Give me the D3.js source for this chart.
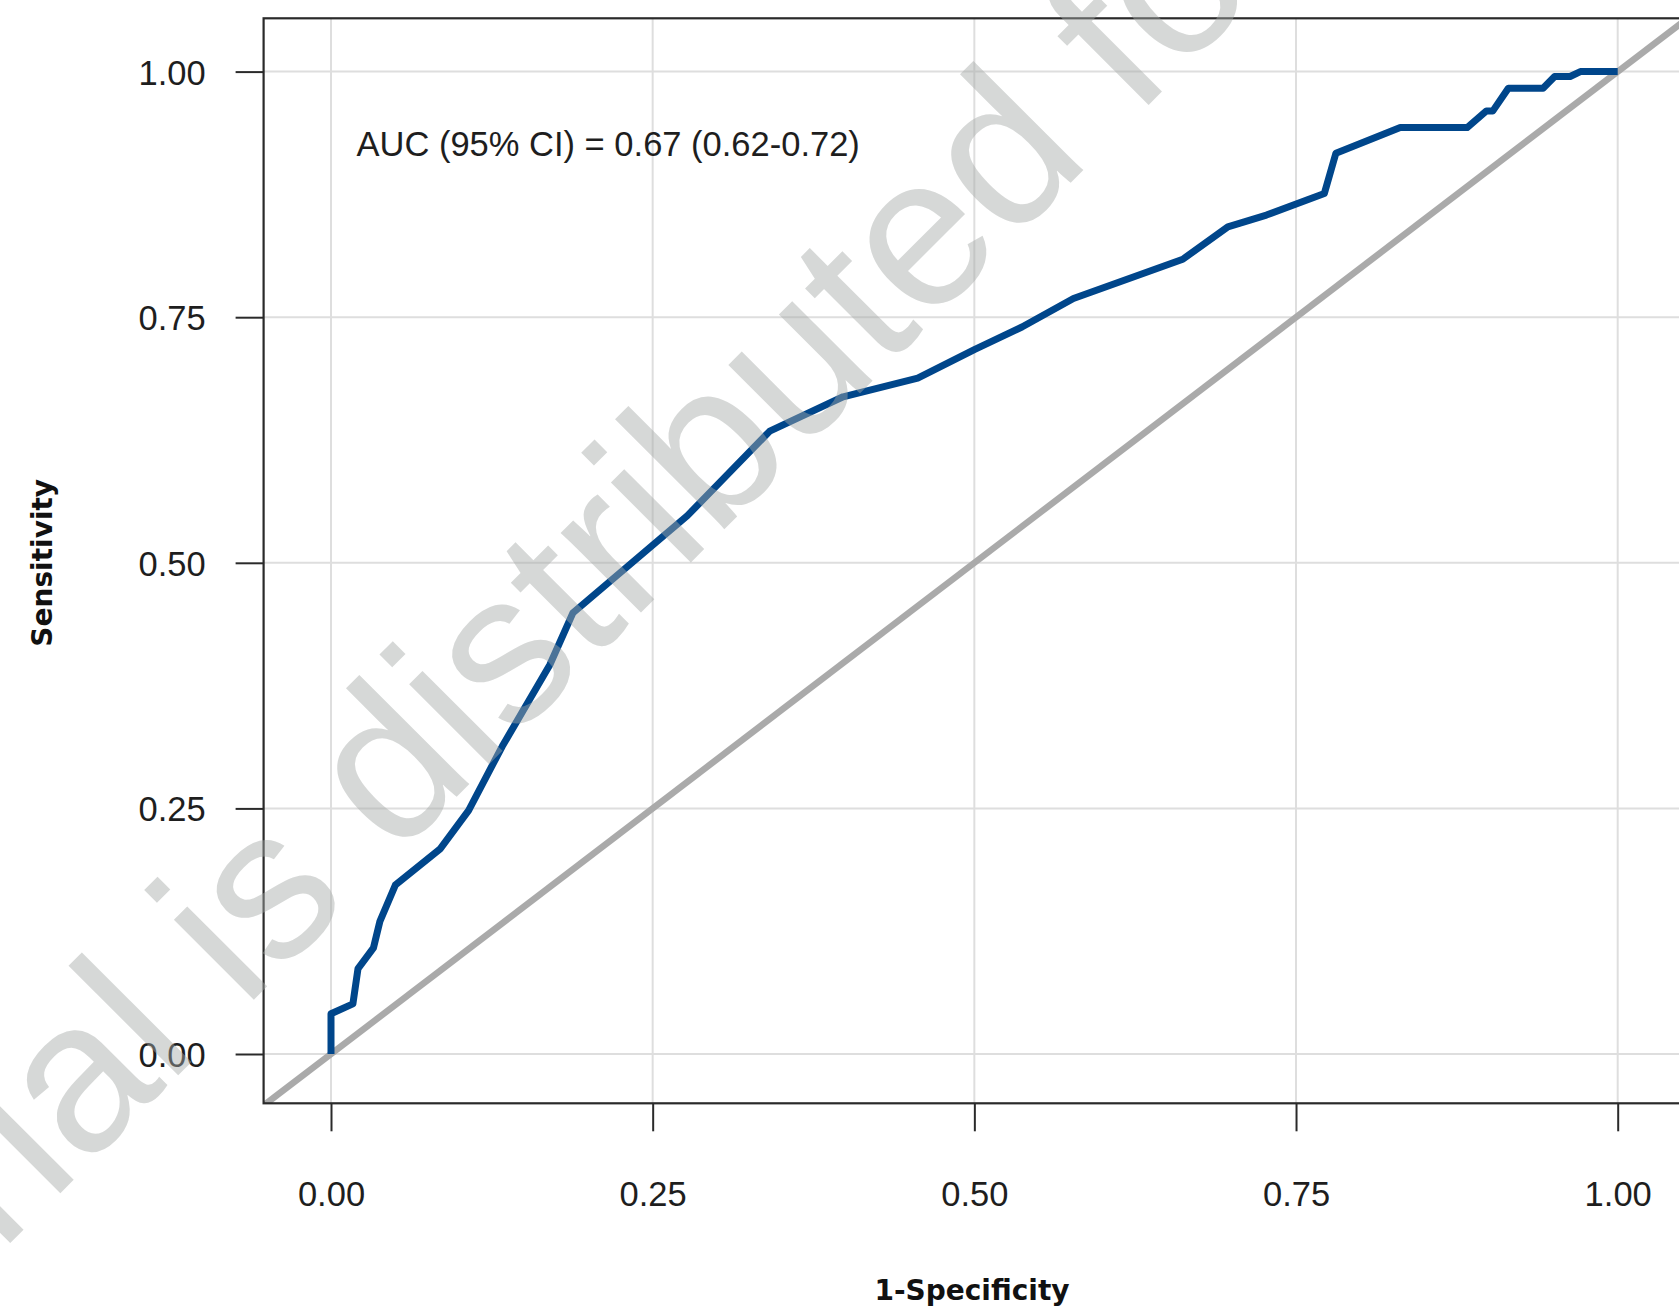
<!DOCTYPE html>
<html>
<head>
<meta charset="utf-8">
<script src="https://cdn.jsdelivr.net/npm/d3@7"></script>
<style>
  html, body { margin: 0; padding: 0; background: #fff; }
  svg { display: block; }
</style>
</head>
<body>
<svg id="chart" width="1679" height="1313"></svg>
<script>
// ---- data ----
const fpr = [0, 0, 0.017, 0.021, 0.033, 0.038, 0.050, 0.085, 0.107, 0.133, 0.170, 0.188,
             0.277, 0.341, 0.398, 0.456, 0.500, 0.537, 0.577, 0.662, 0.697, 0.727, 0.772,
             0.781, 0.831, 0.883, 0.898, 0.903, 0.915, 0.942, 0.951, 0.963, 0.971, 1.0];
const tpr = [0, 0.041, 0.051, 0.087, 0.108, 0.135, 0.172, 0.209, 0.248, 0.313, 0.396, 0.449,
             0.548, 0.634, 0.669, 0.688, 0.717, 0.740, 0.769, 0.809, 0.842, 0.854, 0.876,
             0.917, 0.943, 0.943, 0.960, 0.960, 0.983, 0.983, 0.995, 0.995, 1.0, 1.0];
const refLine = [-0.1, 1.2];
const xTicks = [0, 0.25, 0.5, 0.75, 1];
const yTicks = [0, 0.25, 0.5, 0.75, 1];
const tickLabels = ["0.00", "0.25", "0.50", "0.75", "1.00"];
const xTitle = "1-Specificity";
const yTitle = "Sensitivity";
const aucLabel = "AUC (95% CI) = 0.67 (0.62-0.72)";
const watermark = "material is distributed for";

// ---- layout ----
const svg = d3.select("#chart");
const x = d3.scaleLinear().domain([0, 1]).range([331, 1617.7]);
const y = d3.scaleLinear().domain([0, 1]).range([1054, 71.6]);
const panel = { left: 263.6, right: 1686, top: 18.3, bottom: 1103.3 };
const FONT = "'Liberation Sans', Arial, Helvetica, sans-serif";
const TXT = "#1e1e1e";

svg.append("defs").append("clipPath").attr("id", "panelClip")
  .append("rect")
  .attr("x", panel.left).attr("y", panel.top)
  .attr("width", panel.right - panel.left).attr("height", panel.bottom - panel.top);

// gridlines
const grid = svg.append("g");
grid.selectAll("line.vx").data(xTicks).join("line")
  .attr("x1", d => x(d)).attr("x2", d => x(d))
  .attr("y1", panel.top).attr("y2", panel.bottom)
  .attr("stroke", "#dedede").attr("stroke-width", 2);
grid.selectAll("line.hy").data(yTicks).join("line")
  .attr("y1", d => y(d)).attr("y2", d => y(d))
  .attr("x1", panel.left).attr("x2", panel.right)
  .attr("stroke", "#dedede").attr("stroke-width", 2);

// diagonal reference line
svg.append("line")
  .attr("clip-path", "url(#panelClip)")
  .attr("x1", x(refLine[0])).attr("y1", y(refLine[0]))
  .attr("x2", x(refLine[1])).attr("y2", y(refLine[1]))
  .attr("stroke", "#aaaaaa").attr("stroke-width", 6.5);

// ROC curve
const pts = fpr.map((f, i) => [f, tpr[i]]);
svg.append("path")
  .datum(pts)
  .attr("d", d3.line().x(d => x(d[0])).y(d => y(d[1])))
  .attr("fill", "none")
  .attr("stroke", "#00468b")
  .attr("stroke-width", 7)
  .attr("stroke-linejoin", "round")
  .attr("stroke-linecap", "butt");

// panel frame
svg.append("rect")
  .attr("x", panel.left).attr("y", panel.top)
  .attr("width", panel.right - panel.left).attr("height", panel.bottom - panel.top)
  .attr("fill", "none").attr("stroke", "#2a2a2a").attr("stroke-width", 2.2);

// axes
const xAxis = d3.axisBottom(x).tickValues(xTicks)
  .tickFormat((d, i) => tickLabels[i]).tickSize(28).tickPadding(50);
const gx = svg.append("g").attr("transform", `translate(0,${panel.bottom})`).call(xAxis);
const yAxis = d3.axisLeft(y).tickValues(yTicks)
  .tickFormat((d, i) => tickLabels[i]).tickSize(28).tickPadding(30);
const gy = svg.append("g").attr("transform", `translate(${panel.left},0)`).call(yAxis);
[gx, gy].forEach(g => {
  g.select(".domain").remove();
  g.selectAll(".tick line").attr("stroke", "#2a2a2a").attr("stroke-width", 2);
  g.selectAll(".tick text").attr("fill", TXT)
    .style("font-family", FONT).style("font-size", "34.5px");
});
gy.selectAll(".tick text").attr("dy", "0.36em");

// axis titles
svg.append("text")
  .attr("x", 972).attr("y", 1300)
  .attr("text-anchor", "middle")
  .style("font-family", "'DejaVu Sans', sans-serif").style("font-weight", "bold")
  .style("font-size", "28px").attr("fill", "#111")
  .text(xTitle);
svg.append("text")
  .attr("transform", `translate(51.5,${y(0.5)}) rotate(-90)`)
  .attr("text-anchor", "middle")
  .style("font-family", "'DejaVu Sans', sans-serif").style("font-weight", "bold")
  .style("font-size", "28px").attr("fill", "#111")
  .text(yTitle);

// AUC annotation
svg.append("text")
  .attr("x", 356.5).attr("y", 156)
  .style("font-family", FONT).style("font-size", "34.5px")
  .attr("fill", TXT)
  .text(aucLabel);

// watermark overlay
svg.append("text")
  .attr("transform", "translate(-336.6,1590) rotate(-45)")
  .style("font-family", FONT).style("font-size", "214px")
  .attr("fill", "rgb(165,169,167)").attr("fill-opacity", 0.455)
  .text(watermark);
</script>
</body>
</html>
